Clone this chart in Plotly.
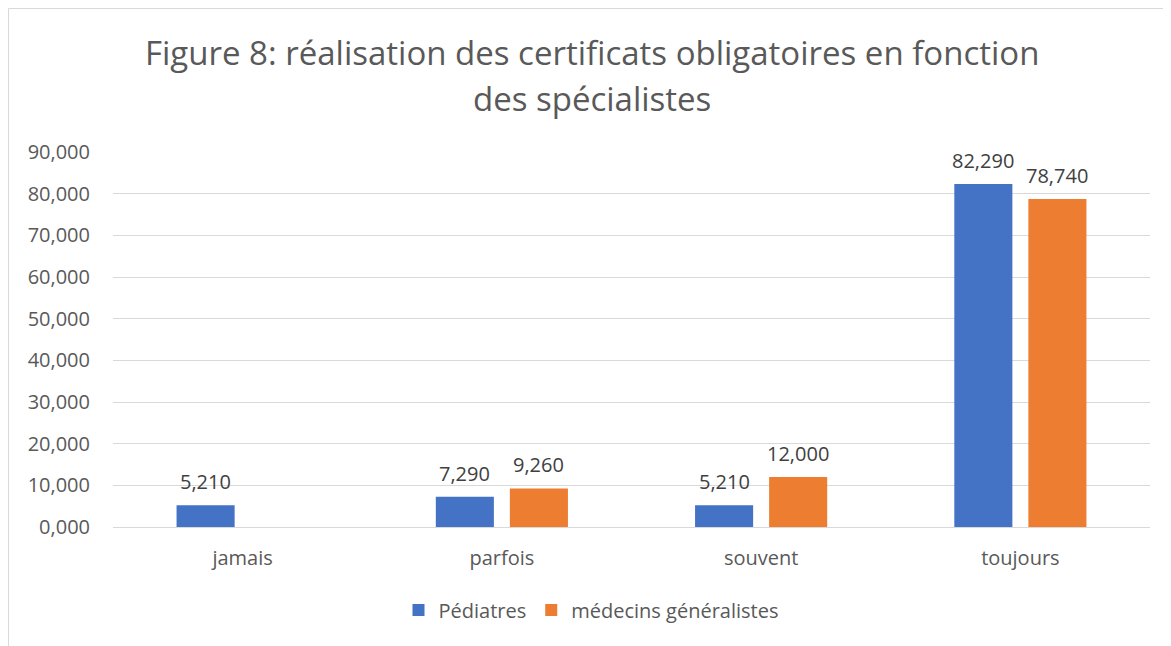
import plotly.graph_objects as go

categories = ["jamais", "parfois", "souvent", "toujours"]
pediatres = [5.21, 7.29, 5.21, 82.29]
generalistes = [None, 9.26, 12.0, 78.74]
series_names = ["Pédiatres", "médecins généralistes"]
colors = ["#4472C4", "#ED7D31"]
y_ticks = [0, 10, 20, 30, 40, 50, 60, 70, 80, 90]
title_lines = ["Figure 8: réalisation des certificats obligatoires en fonction",
               "des spécialistes"]

# page body has an 8px margin; figure is sized to fill the rest
W, H = 1163, 638
L, R, T, B = 105, 21, 144, 119
pw = W - L - R
ph = H - T - B

font_family = "Open Sans, Liberation Sans, sans-serif"
grey = "#595959"
label_grey = "#404040"
num_size = 20
word_size = 20

fig = go.Figure()
series = [pediatres, generalistes]
for name, vals, col in zip(series_names, series, colors):
    fig.add_trace(go.Bar(
        x=categories, y=vals, name=name, marker_color=col,
        marker_line_width=0,
    ))

# data labels above bars
slot_shift = [-37, 37]
for vals, shift in zip(series, slot_shift):
    for cat, v in zip(categories, vals):
        if v is None:
            continue
        fig.add_annotation(
            x=cat, y=v, xref="x", yref="y", xshift=shift, yshift=8,
            text=f"{v:.3f}".replace(".", ","), showarrow=False,
            yanchor="bottom", xanchor="center",
            font=dict(family=font_family, size=num_size, color=label_grey),
        )

# title, two lines
for line, yc in zip(title_lines, [44, 90]):
    fig.add_annotation(
        x=584 / W, y=1 - yc / H, xref="paper", yref="paper",
        text=line, showarrow=False, xanchor="center", yanchor="middle",
        font=dict(family=font_family, size=33, color=grey),
    )
for ann in fig.layout.annotations[-2:]:
    ann.xref = "x domain"
    ann.yref = "y domain"
    ann.x = (ann.x * W - L) / pw
    ann.y = (ann.y * H - B) / ph

fig.update_layout(
    width=W, height=H,
    margin=dict(l=L, r=R, t=T, b=B),
    paper_bgcolor="white", plot_bgcolor="white",
    separators=",.",
    barmode="group", bargap=0.4286, bargroupgap=0.216,
    font=dict(family=font_family, color=grey),
    xaxis=dict(
        showgrid=False, showline=False, ticks="",
        tickfont=dict(size=word_size, color=grey), ticklabelstandoff=17,
    ),
    yaxis=dict(
        range=[0, 90], tickvals=y_ticks, tickformat=".3f",
        showgrid=True, gridcolor="#d9d9d9", gridwidth=1,
        zeroline=True, zerolinecolor="#d9d9d9", zerolinewidth=1,
        showline=False, ticks="",
        tickfont=dict(size=num_size, color=grey), ticklabelstandoff=22,
    ),
    legend=dict(
        orientation="h", x=583 / W, xanchor="center",
        xref="container", yref="container",
        y=1 - 602 / H, yanchor="middle",
        font=dict(size=word_size, color=grey),
        traceorder="normal",
    ),
    showlegend=True,
)

fig.add_shape(
    type="rect", xref="paper", yref="paper",
    x0=(0.5 - L) / pw, x1=(W + 5 - L) / pw,
    y0=-(H + 5 - T - ph) / ph, y1=1 + (T - 0.5) / ph,
    line=dict(color="#d9d9d9", width=1), fillcolor="rgba(0,0,0,0)",
    layer="below",
)

fig.write_html("out.html")
